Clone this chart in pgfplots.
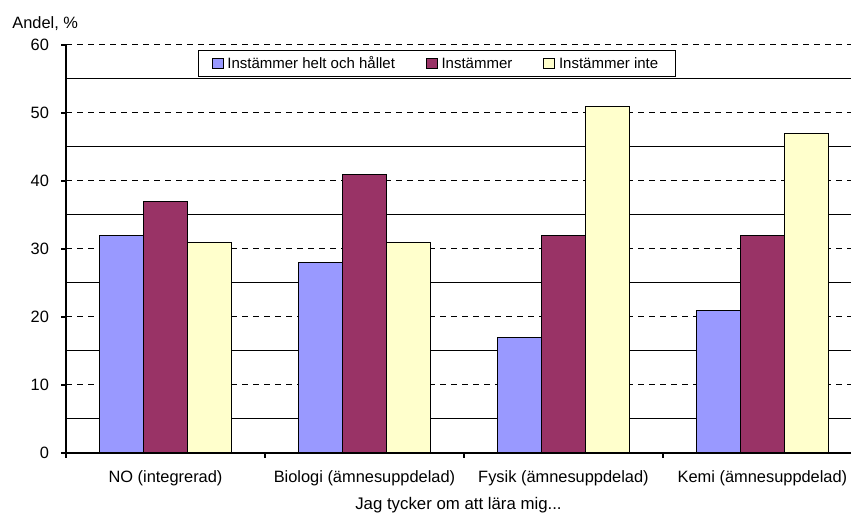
\documentclass[border=0pt]{standalone}
\usepackage{fontspec}
\setmainfont{Liberation Sans}
\usepackage{pgfplots}
\pgfplotsset{compat=1.18}
\definecolor{cA}{HTML}{9999FF}
\definecolor{cB}{HTML}{993366}
\definecolor{cC}{HTML}{FFFFCC}
\begin{document}
\begin{tikzpicture}[font=\fontsize{8.2}{9.8}\selectfont]
\path[use as bounding box] (-33pt,-30pt) rectangle (392.5pt,226.5pt);
\begin{axis}[
  scale only axis,
  width=392.5pt, height=204pt,
  at={(0,0)}, anchor=south west,
  ybar=0pt, bar width=0.221,
  xmin=-0.5, xmax=3.445,
  ymin=0, ymax=60,
  ytick={0,10,...,60},
  minor ytick={5,15,...,55},
  ymajorgrids, yminorgrids,
  major grid style={black, line width=0.5pt, dash pattern=on 3pt off 2.5pt},
  minor grid style={black, line width=0.5pt},
  axis x line*=bottom, axis y line*=left,
  axis line style={black, line width=0.6pt, -},
  tick style={black, line width=0.6pt},
  tick align=outside,
  major tick length=2.5pt,
  minor tick length=0pt,
  xtick={0,1,2,3},
  x tick style={draw=none},
  xticklabels={NO (integrerad), Biologi (ämnesuppdelad), Fysik (ämnesuppdelad), Kemi (ämnesuppdelad)},
  extra x ticks={-0.5,0.5,1.5,2.5},
  extra x tick labels={},
  extra x tick style={x tick style={draw=black}, grid=none},
  xticklabel style={yshift=-3pt},
  yticklabel style={xshift=-2.5pt},
  /pgf/number format/assume math mode=true,
  xlabel={Jag tycker om att lära mig...},
  xlabel style={at={(axis description cs:0.5,0)}, anchor=base, inner sep=0pt, yshift=-28.5pt, font=\fontsize{8.4}{10}\selectfont},
  ylabel={Andel, \%},
  ylabel style={rotate=-90, at={(axis description cs:0,1)}, anchor=base west, inner sep=0pt, xshift=-27pt, yshift=8pt},
  legend columns=3,
  legend style={at={(0.4726,0.9547)}, anchor=center, draw=black, line width=0.5pt, fill=white,
    font=\fontsize{7.5}{9}\selectfont, inner xsep=6.5pt, inner ysep=0pt,
    nodes={text height=0.72em, text depth=0.2em, inner ysep=2pt},
    /tikz/every even column/.append style={column sep=13.5pt}},
  legend image code/.code={\draw[#1, line width=0.4pt] (0pt,-2.7pt) rectangle (5.4pt,2.7pt);},
  legend cell align=left,
]
\addplot[fill=cA, draw=black, line width=0.5pt] coordinates {(0,32) (1,28) (2,17) (3,21)};
\addplot[fill=cB, draw=black, line width=0.5pt] coordinates {(0,37) (1,41) (2,32) (3,32)};
\addplot[fill=cC, draw=black, line width=0.5pt] coordinates {(0,31) (1,31) (2,51) (3,47)};
\legend{Instämmer helt och hållet, Instämmer, Instämmer inte}
\end{axis}
\end{tikzpicture}
\end{document}
